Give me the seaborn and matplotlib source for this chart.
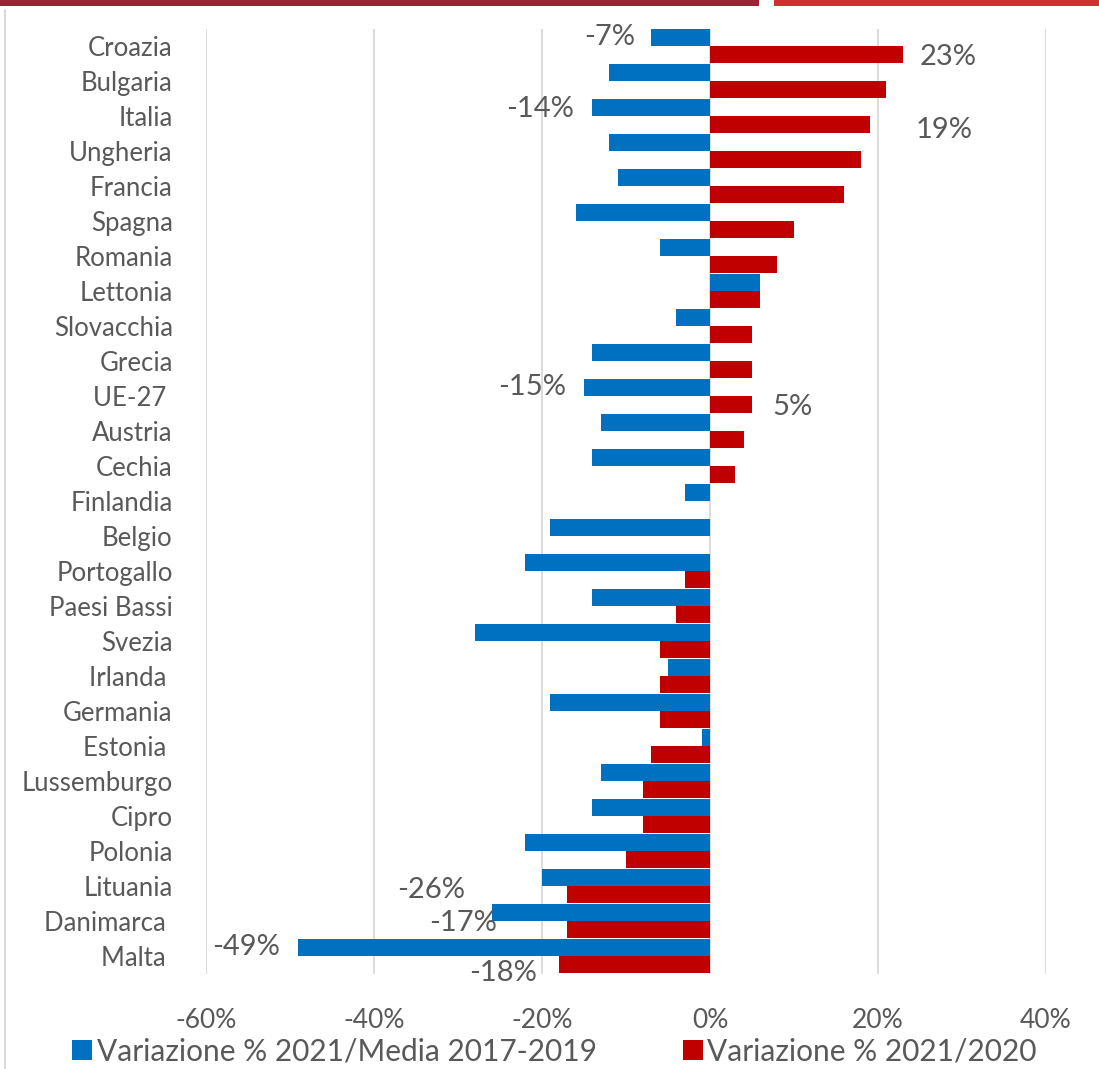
import numpy as np
import pandas as pd
import seaborn as sns
import matplotlib.pyplot as plt
from matplotlib.patches import Rectangle
from matplotlib.lines import Line2D

# Data
countries = ["Croazia", "Bulgaria", "Italia", "Ungheria", "Francia", "Spagna",
             "Romania", "Lettonia", "Slovacchia", "Grecia", "UE-27 ", "Austria",
             "Cechia", "Finlandia", "Belgio", "Portogallo", "Paesi Bassi", "Svezia",
             "Irlanda ", "Germania", "Estonia ", "Lussemburgo", "Cipro", "Polonia",
             "Lituania", "Danimarca ", "Malta "]
var_media = [-7, -12, -14, -12, -11, -16, -6, 6, -4, -14, -15, -13, -14, -3, -19,
             -22, -14, -28, -5, -19, -1, -13, -14, -22, -20, -26, -49]
var_2020 = [23, 21, 19, 18, 16, 10, 8, 6, 5, 5, 5, 4, 3, 0, 0,
            -3, -4, -6, -6, -6, -7, -8, -8, -10, -17, -17, -18]
series = ["Variazione % 2021/Media 2017-2019", "Variazione % 2021/2020"]
xticks = [-60, -40, -20, 0, 20, 40]

# which bars carry a value label: (row, series index, dx px, dy px)
labelled = [(0, 0, -16, 0), (0, 1, 16, -2), (2, 0, -18, -2), (2, 1, 46, -5),
            (10, 0, -18, 0), (10, 1, 20, -2), (25, 0, -26, 22), (25, 1, -70, 7),
            (26, 0, -18, 0), (26, 1, -22, -8)]

BLUE = "#0070C0"
RED = "#C00000"
GREY = "#595959"

df = pd.DataFrame({
    "paese": countries * 2,
    "serie": [series[0]] * len(countries) + [series[1]] * len(countries),
    "valore": var_media + var_2020,
})

sns.set_style("white")
plt.rcParams["font.family"] = ["Lato", "DejaVu Sans"]

fig = plt.figure(figsize=(10.99, 10.69), dpi=100)
ax = fig.add_axes([206 / 1099, 1 - 973.5 / 1069, 840 / 1099, 945 / 1069])

sns.barplot(data=df, y="paese", x="valore", hue="serie", orient="h",
            palette=[BLUE, RED], saturation=1, width=0.98, errorbar=None,
            linewidth=0, ax=ax)

ax.set_xlim(-60, 40)
ax.set_xticks(xticks)
ax.set_xticklabels([f"{t}%" for t in xticks])
ax.set_xlabel("")
ax.set_ylabel("")
ax.xaxis.grid(True, color="#D9D9D9", linewidth=1.3)
ax.yaxis.grid(False)
ax.set_axisbelow(True)
for s in ax.spines.values():
    s.set_visible(False)
ax.tick_params(axis="x", length=0, pad=25, labelsize=19, labelcolor=GREY)
ax.tick_params(axis="y", length=0, pad=24, labelsize=18.5, labelcolor=GREY)

# value labels
for row, si, dx, dy in labelled:
    bar = ax.containers[si][row]
    val = bar.get_width()
    yc = bar.get_y() + bar.get_height() / 2
    ha = "left" if val > 0 else "right"
    ax.annotate(f"{val:.0f}%", (val, yc), xytext=(dx, dy), textcoords="offset pixels",
                ha=ha, va="center", fontsize=21, color=GREY)

# legend
leg = ax.get_legend()
if leg is not None:
    leg.remove()
handles = [Line2D([], [], marker="s", linestyle="none", markersize=14,
                  markerfacecolor=c, markeredgewidth=0) for c in (BLUE, RED)]
fig.legend(handles, series, loc="lower center", ncol=2, frameon=False,
           bbox_to_anchor=(0.505, -0.022), fontsize=21.5, labelcolor=GREY,
           handletextpad=0.2, columnspacing=2.9, handlelength=0.6)

# decorations of the original screenshot
fig.add_artist(Rectangle((0, 1 - 6 / 1069), 759 / 1099, 6 / 1069,
                         transform=fig.transFigure, color="#9B2335", lw=0))
fig.add_artist(Rectangle((774 / 1099, 1 - 6 / 1069), 1 - 774 / 1099, 6 / 1069,
                         transform=fig.transFigure, color="#D0302F", lw=0))
fig.add_artist(Line2D([5 / 1099, 5 / 1099], [0, 1 - 10 / 1069],
                      transform=fig.transFigure, color="#D9D9D9", lw=1.5))

fig.savefig("out.png", dpi=100)
